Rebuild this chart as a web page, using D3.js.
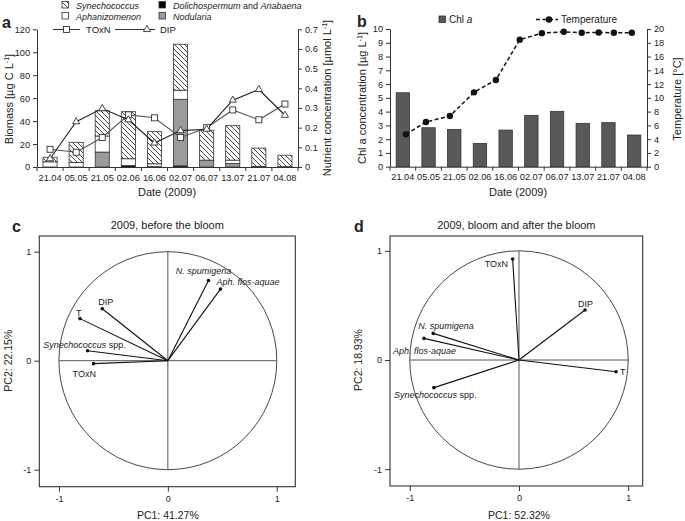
<!DOCTYPE html>
<html><head><meta charset="utf-8">
<script src="https://cdn.jsdelivr.net/npm/d3@7"></script>
<style>
body{margin:0;background:#fff}
svg{display:block}
text{font-family:"Liberation Sans",Arial,sans-serif;fill:#222}
</style>
</head><body>
<svg id="chart" width="685" height="521"></svg>
<script>
// ---------- DATA ----------
const dates = ["21.04","05.05","21.05","02.06","16.06","02.07","06.07","13.07","21.07","04.08"];
// Panel a: biomass [µg C L-1]
const synechococcus  = [4, 17.5, 22, 41, 28, 40, 26, 30, 16, 10];
const dolichospermum = [0, 0, 0, 1.2, 0.3, 1, 0, 0, 0.5, 0.3];
const aphanizomenon  = [4.5, 4, 14, 6, 2.5, 8, 0, 3, 0, 0];
const nodularia      = [0, 0, 13, 0, 0, 58, 6, 3, 0, 0];
// Panel a: nutrients [µmol L-1]
const toxn = [0.09, 0.075, 0.15, 0.265, 0.25, 0.15, 0.2, 0.29, 0.24, 0.32];
const dip  = [0.042, 0.23, 0.297, 0.24, 0.122, 0.185, 0.192, 0.34, 0.394, 0.263];
const biomassTicks = [0,20,40,60,80,100,120];
const nutrientTicks = [0,0.1,0.2,0.3,0.4,0.5,0.6,0.7];
// Panel b
const chlA = [5.37, 2.83, 2.71, 1.69, 2.66, 3.73, 4.02, 3.15, 3.2, 2.3];
const tempPos = [0.12, 0.9, 1.83, 2.77, 3.62, 4.55, 5.41, 6.26, 6.96, 7.62, 8.21, 8.91]; // in date-index units
const temperature = [4.7, 6.5, 7.36, 10.8, 12.6, 18.45, 19.4, 19.6, 19.45, 19.5, 19.45, 19.45];
const chlTicks = [0,1,2,3,4,5,6,7,8,9,10];
const tempTicks = [0,2,4,6,8,10,12,14,16,18,20];
// Panels c, d: PCA loadings
const pcaVars = ["N. spumigena","Aph. flos-aquae","DIP","T","Synechococcus spp.","TOxN"];
const pcaC_pc1 = [0.373, 0.483, -0.602, -0.807, -0.737, -0.682];
const pcaC_pc2 = [0.736, 0.657, 0.477, 0.386, 0.091, -0.027];
const pcaD_pc1 = [-0.785, -0.870, 0.605, 0.889, -0.779, -0.058];
const pcaD_pc2 = [0.244, 0.198, 0.458, -0.107, -0.253, 0.925];
const pcaTicks = [-1, 0, 1];

// ---------- LAYOUT / STYLE ----------
const svg = d3.select("#chart");
const defs = svg.append("defs");
const pat = defs.append("pattern").attr("id","hatch").attr("patternUnits","userSpaceOnUse")
  .attr("width",5).attr("height",5);
pat.append("rect").attr("width",5).attr("height",5).attr("fill","#fff");
pat.append("path").attr("d","M-1,-1L6,6M-1,4L1,6M4,-1L6,1").attr("stroke","#333").attr("stroke-width",0.9);

const axisColor = "#333";
const tickFs = 9.2;
function styleAxis(g, fs){
  g.selectAll("path,line").attr("stroke",axisColor);
  g.selectAll("text").attr("font-size",fs).attr("fill","#222").attr("font-family","Liberation Sans, Arial, sans-serif");
}
function superTitle(g, x, y, parts, fs){
  const t = g.append("text").attr("transform",`translate(${x},${y}) rotate(-90)`)
    .attr("text-anchor","middle").attr("font-size",fs);
  parts.forEach(p=>{
    const ts = t.append("tspan").text(p.t);
    if(p.sup) ts.attr("baseline-shift","super").attr("font-size",fs*0.65);
    if(p.it) ts.attr("font-style","italic");
  });
  return t;
}

// ---------- PANEL A ----------
(function(){
  const g = svg.append("g");
  const x = d3.scaleBand().domain(dates).range([37, 298]);
  const y = d3.scaleLinear().domain([0,120]).range([167, 29.3]);
  const y2 = d3.scaleLinear().domain([0,0.7]).range([167, 29.3]);
  const bw = x.bandwidth(), barW = bw*0.54;
  const rows = dates.map((d,i)=>({date:d, dol:dolichospermum[i], nod:nodularia[i], aph:aphanizomenon[i], syn:synechococcus[i]}));
  const keys = ["dol","nod","aph","syn"];
  const fills = {dol:"#000", nod:"#9b9b9b", aph:"#fff", syn:"url(#hatch)"};
  const series = d3.stack().keys(keys)(rows);
  series.forEach(s=>{
    g.append("g").selectAll("rect").data(s.filter(d=>d[1]-d[0]>0)).join("rect")
      .attr("x",d=>x(d.data.date)+(bw-barW)/2).attr("width",barW)
      .attr("y",d=>y(d[1])).attr("height",d=>y(d[0])-y(d[1]))
      .attr("fill",fills[s.key]).attr("stroke","#333").attr("stroke-width",0.8);
  });
  // axes
  const la = g.append("g").attr("transform","translate(37,0)")
    .call(d3.axisLeft(y).tickValues(biomassTicks).tickSize(4).tickSizeOuter(0).tickPadding(3));
  styleAxis(la,tickFs);
  const ra = g.append("g").attr("transform","translate(298,0)")
    .call(d3.axisRight(y2).tickValues(nutrientTicks).tickSize(4).tickSizeOuter(0).tickPadding(3)
      .tickFormat(d=>d===0?"0":d3.format(".1f")(d)));
  styleAxis(ra,tickFs);
  const xa = g.append("g").attr("transform","translate(0,167)")
    .call(d3.axisBottom(x).tickSize(0).tickSizeOuter(0).tickPadding(7));
  styleAxis(xa,tickFs);
  g.append("g").selectAll("line").data(d3.range(dates.length+1)).join("line")
    .attr("x1",i=>37+i*x.step()).attr("x2",i=>37+i*x.step()).attr("y1",167).attr("y2",171)
    .attr("stroke",axisColor);
  // lines
  const cx = (d)=>x(d)+bw/2;
  const lineT = d3.line().x((v,i)=>cx(dates[i])).y(v=>y2(v));
  g.append("path").attr("d",lineT(toxn)).attr("fill","none").attr("stroke","#555").attr("stroke-width",1.1);
  g.append("path").attr("d",lineT(dip)).attr("fill","none").attr("stroke","#222").attr("stroke-width",1.1);
  g.append("g").selectAll("rect").data(toxn).join("rect")
    .attr("x",(v,i)=>cx(dates[i])-3).attr("y",v=>y2(v)-3).attr("width",6).attr("height",6)
    .attr("fill","#fff").attr("stroke","#333").attr("stroke-width",0.9);
  const tri = d3.symbol().type(d3.symbolTriangle).size(22);
  g.append("g").selectAll("path").data(dip).join("path")
    .attr("transform",(v,i)=>`translate(${cx(dates[i])},${y2(v)})`).attr("d",tri())
    .attr("fill","#fff").attr("stroke","#333").attr("stroke-width",0.9);
  // titles
  superTitle(g, 13, 99, [{t:"Biomass  [µg C L"},{t:"-1",sup:true},{t:"]"}], 11);
  superTitle(g, 331, 98, [{t:"Nutrient concentration [µmol L"},{t:"-1",sup:true},{t:"]"}], 11);
  g.append("text").attr("x",167).attr("y",196).attr("text-anchor","middle").attr("font-size",11).text("Date (2009)");
  g.append("text").attr("x",2).attr("y",28).attr("font-size",16).attr("font-weight","bold").attr("fill","#111").text("a");
  // legend
  const lg = g.append("g").attr("font-size",9);
  const box = (bx,by,f)=>lg.append("rect").attr("x",bx).attr("y",by).attr("width",6.5).attr("height",6.5).attr("fill",f).attr("stroke","#333").attr("stroke-width",0.8);
  box(62,1.5,"url(#hatch)"); lg.append("text").attr("x",76).attr("y",9).attr("font-style","italic").attr("font-size",9).text("Synechococcus");
  box(159,1.5,"#000");
  const t2 = lg.append("text").attr("x",173).attr("y",9).attr("font-size",9);
  t2.append("tspan").attr("font-style","italic").text("Dolichospermum");
  t2.append("tspan").text(" and ");
  t2.append("tspan").attr("font-style","italic").text("Anabaena");
  box(62,12.5,"#fff"); lg.append("text").attr("x",76).attr("y",20).attr("font-style","italic").attr("font-size",9).text("Aphanizomenon");
  box(159,12.5,"#9b9b9b"); lg.append("text").attr("x",173).attr("y",20).attr("font-style","italic").attr("font-size",9).text("Nodularia");
  lg.append("line").attr("x1",53).attr("x2",80).attr("y1",29.5).attr("y2",29.5).attr("stroke","#333");
  lg.append("rect").attr("x",63.5).attr("y",26.5).attr("width",6).attr("height",6).attr("fill","#fff").attr("stroke","#333").attr("stroke-width",0.9);
  lg.append("text").attr("x",86).attr("y",33).attr("font-size",9.5).text("TOxN");
  lg.append("line").attr("x1",115).attr("x2",155).attr("y1",29.5).attr("y2",29.5).attr("stroke","#333");
  lg.append("path").attr("transform","translate(147,29.5)").attr("d",tri()).attr("fill","#fff").attr("stroke","#333").attr("stroke-width",0.9);
  lg.append("text").attr("x",160).attr("y",33).attr("font-size",9.5).text("DIP");
})();

// ---------- PANEL B ----------
(function(){
  const g = svg.append("g");
  const x = d3.scaleBand().domain(dates).range([390, 647]);
  const y = d3.scaleLinear().domain([0,10]).range([166.7, 29]);
  const y2 = d3.scaleLinear().domain([0,20]).range([166.7, 29]);
  const bw = x.bandwidth(), barW = bw*0.52;
  g.append("g").selectAll("rect").data(chlA).join("rect")
    .attr("x",(v,i)=>x(dates[i])+(bw-barW)/2).attr("width",barW)
    .attr("y",v=>y(v)).attr("height",v=>y(0)-y(v))
    .attr("fill","#595959").attr("stroke","#333").attr("stroke-width",0.8);
  const la = g.append("g").attr("transform","translate(390,0)")
    .call(d3.axisLeft(y).tickValues(chlTicks).tickSize(4).tickSizeOuter(0).tickPadding(3));
  styleAxis(la,tickFs);
  const ra = g.append("g").attr("transform","translate(647,0)")
    .call(d3.axisRight(y2).tickValues(tempTicks).tickSize(4).tickSizeOuter(0).tickPadding(3));
  styleAxis(ra,tickFs);
  const xa = g.append("g").attr("transform","translate(0,166.7)")
    .call(d3.axisBottom(x).tickSize(0).tickSizeOuter(0).tickPadding(7));
  styleAxis(xa,tickFs);
  g.append("g").selectAll("line").data(d3.range(dates.length+1)).join("line")
    .attr("x1",i=>390+i*x.step()).attr("x2",i=>390+i*x.step()).attr("y1",166.7).attr("y2",170.7)
    .attr("stroke",axisColor);
  const xt = d3.scaleLinear().domain([0, dates.length-1]).range([x(dates[0])+bw/2, x(dates[dates.length-1])+bw/2]);
  const line = d3.line().x((v,i)=>xt(tempPos[i])).y(v=>y2(v));
  g.append("path").attr("d",line(temperature)).attr("fill","none").attr("stroke","#111")
    .attr("stroke-width",1.5).attr("stroke-dasharray","4,2.5");
  g.append("g").selectAll("circle").data(temperature).join("circle")
    .attr("cx",(v,i)=>xt(tempPos[i])).attr("cy",v=>y2(v)).attr("r",3.2).attr("fill","#111");
  superTitle(g, 366, 98, [{t:"Chl a concentration  [µg L"},{t:"-1",sup:true},{t:"]"}], 11);
  superTitle(g, 681, 99, [{t:"Temperature [°C]"}], 11);
  g.append("text").attr("x",518).attr("y",196).attr("text-anchor","middle").attr("font-size",11).text("Date (2009)");
  g.append("text").attr("x",357).attr("y",27).attr("font-size",16).attr("font-weight","bold").attr("fill","#111").text("b");
  // legend
  g.append("rect").attr("x",439).attr("y",16).attr("width",6.5).attr("height",6.5).attr("fill","#595959").attr("stroke","#333").attr("stroke-width",0.8);
  const lt = g.append("text").attr("x",449).attr("y",23).attr("font-size",10);
  lt.append("tspan").text("Chl ");
  lt.append("tspan").attr("font-style","italic").text("a");
  g.append("line").attr("x1",536).attr("x2",558).attr("y1",19.5).attr("y2",19.5).attr("stroke","#111")
    .attr("stroke-width",1.5).attr("stroke-dasharray","4,2.5");
  g.append("circle").attr("cx",549).attr("cy",19.5).attr("r",3.2).attr("fill","#111");
  g.append("text").attr("x",561).attr("y",23).attr("font-size",10).text("Temperature");
})();

// ---------- PANELS C, D ----------
function pcaPanel(cfg){
  const g = svg.append("g");
  const x = d3.scaleLinear().domain(cfg.xDom).range([cfg.left, cfg.right]);
  const y = d3.scaleLinear().domain(cfg.yDom).range([cfg.bottom, cfg.top]);
  g.append("rect").attr("x",cfg.left).attr("y",cfg.top).attr("width",cfg.right-cfg.left).attr("height",cfg.bottom-cfg.top)
    .attr("fill","none").attr("stroke","#333").attr("stroke-width",1.1);
  const la = g.append("g").attr("transform",`translate(${cfg.left},0)`)
    .call(d3.axisLeft(y).tickValues(pcaTicks).tickSize(5).tickPadding(3).tickFormat(d=>String(d)));
  la.select(".domain").remove(); styleAxis(la,9);
  const ba = g.append("g").attr("transform",`translate(0,${cfg.bottom})`)
    .call(d3.axisBottom(x).tickValues(pcaTicks).tickSize(5).tickPadding(4).tickFormat(d=>String(d)));
  ba.select(".domain").remove(); styleAxis(ba,9);
  g.append("ellipse").attr("cx",x(0)).attr("cy",y(0)).attr("rx",x(1)-x(0)).attr("ry",y(0)-y(1))
    .attr("fill","none").attr("stroke","#333").attr("stroke-width",0.9);
  g.append("line").attr("x1",x(-1)).attr("x2",x(1)).attr("y1",y(0)).attr("y2",y(0)).attr("stroke","#555").attr("stroke-width",1);
  g.append("line").attr("x1",x(0)).attr("x2",x(0)).attr("y1",y(-1)).attr("y2",y(1)).attr("stroke","#555").attr("stroke-width",1);
  cfg.pc1.forEach((v,i)=>{
    g.append("line").attr("x1",x(0)).attr("y1",y(0)).attr("x2",x(v)).attr("y2",y(cfg.pc2[i]))
      .attr("stroke","#111").attr("stroke-width",1.1);
    g.append("circle").attr("cx",x(v)).attr("cy",y(cfg.pc2[i])).attr("r",1.8).attr("fill","#111");
    const L = cfg.labels[i];
    const t = g.append("text").attr("x",x(v)+L[0]).attr("y",y(cfg.pc2[i])+L[1]).attr("text-anchor",L[2]).attr("font-size",9);
    const name = pcaVars[i];
    if(name.endsWith(" spp.")){
      t.append("tspan").attr("font-style","italic").text(name.replace(" spp.",""));
      t.append("tspan").text(" spp.");
    } else if(name.includes(".")){
      t.attr("font-style","italic").text(name);
    } else t.text(name);
  });
  g.append("text").attr("x",(cfg.left+cfg.right)/2).attr("y",229).attr("text-anchor","middle").attr("font-size",11).text(cfg.title);
  g.append("text").attr("x",cfg.letterX).attr("y",232).attr("font-size",16).attr("font-weight","bold").attr("fill","#111").text(cfg.letter);
  g.append("text").attr("x",x(0)).attr("y",519).attr("text-anchor","middle").attr("font-size",10.5).text(cfg.xLabel);
  g.append("text").attr("transform",`translate(${cfg.yLabelX},${y(0)}) rotate(-90)`).attr("text-anchor","middle").attr("font-size",10.5).text(cfg.yLabel);
}
pcaPanel({left:39.3,right:295.3,top:236,bottom:486.7,xDom:[-1.18,1.17],yDom:[-1.156,1.144],
  pc1:pcaC_pc1,pc2:pcaC_pc2,title:"2009, before the bloom",letter:"c",letterX:12,
  xLabel:"PC1: 41.27%",yLabel:"PC2: 22.15%",yLabelX:12,
  labels:[[-5,-6,"middle"],[-4,-4,"start"],[-4,-4,"start"],[-4,-3,"start"],[-3,-3,"middle"],[-21,13,"start"]]});
pcaPanel({left:390,right:642.7,top:236,bottom:486,xDom:[-1.181,1.133],yDom:[-1.154,1.136],
  pc1:pcaD_pc1,pc2:pcaD_pc2,title:"2009, bloom and after the bloom",letter:"d",letterX:354,
  xLabel:"PC1: 52.32%",yLabel:"PC2: 18.93%",yLabelX:362,
  labels:[[-15,-4,"start"],[-31,16,"start"],[-7,-3,"start"],[4,3.5,"start"],[-40,10,"start"],[-4.5,7.5,"end"]]});
</script>
</body></html>
